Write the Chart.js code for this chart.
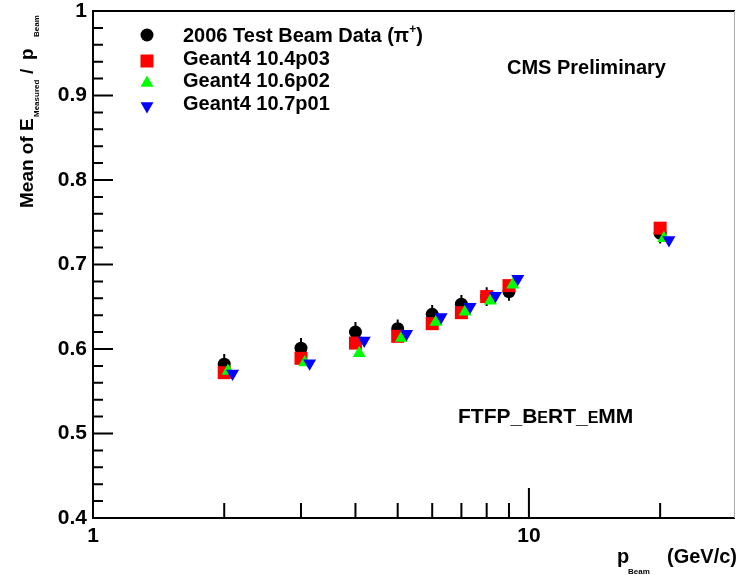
<!DOCTYPE html>
<html lang="en">
<head>
    <meta charset="UTF-8">
    <title>Mean of E_Measured/p_Beam vs p_Beam</title>
    <script src="https://cdn.jsdelivr.net/npm/chart.js"></script>
    <style>
        html, body { margin: 0; padding: 0; background: #fff; }
        #wrap { width: 736px; height: 575px; }
    </style>
</head>
<body>
    <div id="wrap"><canvas id="chart" width="736" height="575"></canvas></div>

    <script>
        // beam momenta (GeV/c); MC points are drawn slightly shifted to the right, as in the original plot
        const dataX   = [2, 3, 4, 5, 6, 7, 8, 9, 20];
        const g4_104x = [2, 3, 4, 5, 6, 7, 8, 9, 20];
        const g4_106x = [2.04, 3.06, 4.08, 5.1, 6.12, 7.14, 8.16, 9.18, 20.4];
        const g4_107x = [2.09, 3.14, 4.19, 5.24, 6.29, 7.33, 8.38, 9.43, 20.95];

        // mean of E_measured / p_beam
        const dataY   = [0.582, 0.601, 0.620, 0.624, 0.641, 0.653, 0.662, 0.668, 0.737];
        const dataErr = [0.012, 0.012, 0.012, 0.011, 0.011, 0.011, 0.011, 0.011, 0.012];
        const g4_104y = [0.572, 0.589, 0.607, 0.615, 0.630, 0.643, 0.662, 0.675, 0.743];
        const g4_106y = [0.574, 0.584, 0.595, 0.613, 0.632, 0.644, 0.657, 0.676, 0.731];
        const g4_107y = [0.571, 0.583, 0.610, 0.618, 0.638, 0.650, 0.663, 0.683, 0.729];

        const seriesLabels = ['2006 Test Beam Data (π⁺)', 'Geant4 10.4p03', 'Geant4 10.6p02', 'Geant4 10.7p01'];

        const xTickValues = [1, 2, 3, 4, 5, 6, 7, 8, 9, 10, 20];
        const xTickLabels = ['1', '', '', '', '', '', '', '', '', '10', ''];
        const yTickValues = [0.4, 0.5, 0.6, 0.7, 0.8, 0.9, 1];
        const yTickLabels = ['0.4', '0.5', '0.6', '0.7', '0.8', '0.9', '1'];

        const FONT = '"Liberation Sans", Arial, Helvetica, sans-serif';

        function xy(xs, ys) {
            return xs.map((x, i) => ({ x: x, y: ys[i] }));
        }

        function marker(ctx, ds, x, y) {
            ctx.fillStyle = ds.backgroundColor;
            if (Chart.helpers && Chart.helpers.drawPoint) {
                Chart.helpers.drawPoint(ctx, {
                    pointStyle: ds.pointStyle,
                    rotation: ds.pointRotation || 0,
                    radius: ds.pointRadius,
                    borderWidth: 0
                }, x, y);
            } else {
                ctx.beginPath();
                ctx.arc(x, y, 6, 0, Math.PI * 2);
                ctx.fill();
            }
        }

        // draws a list of [text, size, dy] pieces one after the other
        function pieces(ctx, list, x, y) {
            list.forEach(p => {
                ctx.font = 'bold ' + p[1] + 'px ' + FONT;
                ctx.fillText(p[0], x, y + (p[2] || 0));
                x += ctx.measureText(p[0]).width;
            });
        }

        // ROOT-like frame, inward ticks and error bars
        const rootFrame = {
            id: 'rootFrame',
            beforeDatasetsDraw(chart) {
                const { ctx, chartArea: a, scales: { x, y } } = chart;
                ctx.save();
                ctx.strokeStyle = '#000';
                ctx.lineWidth = 2;
                ctx.beginPath();
                ctx.moveTo(a.left - 1, a.top);
                ctx.lineTo(a.right, a.top);
                ctx.moveTo(a.left, a.top);
                ctx.lineTo(a.left, a.bottom + 1);
                ctx.moveTo(a.left - 1, a.bottom);
                ctx.lineTo(a.right, a.bottom);

                // y ticks: major every 0.1, minor every 0.02
                for (let i = 0; i < yTickValues.length; i++) {
                    const v = yTickValues[i];
                    const py = y.getPixelForValue(v);
                    ctx.moveTo(a.left, py);
                    ctx.lineTo(a.left + 20, py);
                    if (i < yTickValues.length - 1) {
                        for (let k = 1; k < 5; k++) {
                            const pm = y.getPixelForValue(v + k * 0.02);
                            ctx.moveTo(a.left, pm);
                            ctx.lineTo(a.left + 10, pm);
                        }
                    }
                }
                // x ticks
                xTickValues.forEach(v => {
                    if (v === 1) return;
                    const px = x.getPixelForValue(v);
                    ctx.moveTo(px, a.bottom);
                    ctx.lineTo(px, a.bottom - (v === 10 ? 30 : 15));
                });
                ctx.stroke();

                ctx.strokeStyle = '#aaa';
                ctx.lineWidth = 1;
                ctx.beginPath();
                ctx.moveTo(a.right - 0.5, a.top);
                ctx.lineTo(a.right - 0.5, a.bottom);
                ctx.stroke();

                // statistical error bars of the data
                ctx.strokeStyle = '#000';
                ctx.lineWidth = 2;
                ctx.beginPath();
                chart.data.datasets[0].data.forEach((p, i) => {
                    const px = x.getPixelForValue(p.x);
                    ctx.moveTo(px, y.getPixelForValue(p.y - dataErr[i]));
                    ctx.lineTo(px, y.getPixelForValue(p.y + dataErr[i]));
                });
                ctx.stroke();
                ctx.restore();
            },
            afterDraw(chart) {
                const ctx = chart.ctx;
                const sets = chart.data.datasets;
                ctx.save();
                ctx.fillStyle = '#000';
                ctx.textBaseline = 'alphabetic';

                // legend
                const markerY = [35, 61, 83, 106];
                const textY = [42, 65, 87, 110];
                sets.forEach((ds, i) => {
                    marker(ctx, ds, 147, markerY[i]);
                    ctx.fillStyle = '#000';
                    const parts = ds.label.split('⁺');
                    if (parts.length > 1) {
                        pieces(ctx, [[parts[0], 20], ['+', 12, -9], [parts[1], 20]], 183, textY[i]);
                    } else {
                        pieces(ctx, [[ds.label, 20]], 183, textY[i]);
                    }
                });

                pieces(ctx, [['CMS Preliminary', 20]], 507, 74);
                pieces(ctx, [['FTFP_B', 21], ['E', 16], ['RT_', 21], ['E', 16], ['MM', 21]], 458, 423);

                // x axis title
                pieces(ctx, [['p', 20]], 617, 563);
                pieces(ctx, [['Beam', 8]], 628, 574);
                pieces(ctx, [['(GeV/c)', 20]], 667, 563);

                // y axis title, rotated
                ctx.translate(33, 208);
                ctx.rotate(-Math.PI / 2);
                pieces(ctx, [['Mean of E', 19]], 0, 0);
                pieces(ctx, [['Measured', 8]], 91, 6);
                pieces(ctx, [['/', 19]], 134, 0);
                pieces(ctx, [['p', 19]], 148, 0);
                pieces(ctx, [['Beam', 8]], 171, 6);
                ctx.restore();
            }
        };

        const tickFont = { family: FONT, size: 21, weight: 'bold', lineHeight: 1 };

        new Chart(document.getElementById('chart').getContext('2d'), {
            type: 'scatter',
            data: {
                datasets: [
                    { label: seriesLabels[0], data: xy(dataX, dataY), pointStyle: 'circle', pointRadius: 6.5,
                      backgroundColor: '#000000', borderWidth: 0, order: 3 },
                    { label: seriesLabels[1], data: xy(g4_104x, g4_104y), pointStyle: 'rect', pointRadius: 9.2,
                      backgroundColor: '#ff0000', borderWidth: 0, order: 2 },
                    { label: seriesLabels[2], data: xy(g4_106x, g4_106y), pointStyle: 'triangle', pointRadius: 7.5,
                      backgroundColor: '#00ff00', borderWidth: 0, order: 1 },
                    { label: seriesLabels[3], data: xy(g4_107x, g4_107y), pointStyle: 'triangle', pointRadius: 7.5,
                      pointRotation: 180, backgroundColor: '#0000ff', borderWidth: 0, order: 0 }
                ]
            },
            options: {
                responsive: false,
                animation: false,
                events: [],
                layout: { autoPadding: false, padding: { top: 11, right: 1, left: 0, bottom: 0 } },
                plugins: { legend: { display: false }, tooltip: { enabled: false } },
                scales: {
                    x: {
                        type: 'logarithmic',
                        min: 1,
                        max: 29.7,
                        afterBuildTicks: s => { s.ticks = xTickValues.map(v => ({ value: v })); },
                        afterFit: s => { s.height = 57; s.paddingLeft = 0; s.paddingRight = 0; },
                        grid: { display: false, drawTicks: false },
                        border: { display: false },
                        ticks: {
                            autoSkip: false, maxRotation: 0, minRotation: 0, padding: 8,
                            color: '#000', font: tickFont,
                            callback: (v, i) => xTickLabels[i]
                        }
                    },
                    y: {
                        min: 0.4,
                        max: 1,
                        afterBuildTicks: s => { s.ticks = yTickValues.map(v => ({ value: v })); },
                        afterFit: s => { s.width = 93; s.paddingTop = 0; s.paddingBottom = 0; },
                        grid: { display: false, drawTicks: false },
                        border: { display: false },
                        ticks: {
                            padding: 6, color: '#000', font: tickFont,
                            callback: (v, i) => yTickLabels[i]
                        }
                    }
                }
            },
            plugins: [rootFrame]
        });
    </script>
</body>
</html>
